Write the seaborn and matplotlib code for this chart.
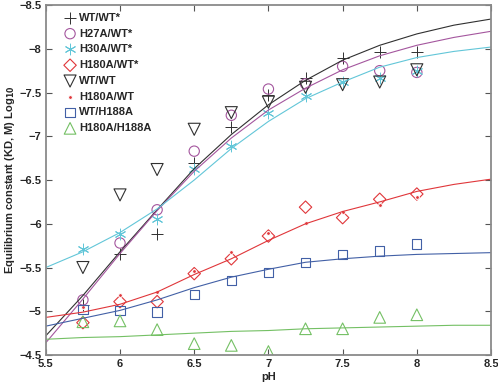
import numpy as np
import pandas as pd
import seaborn as sns
import matplotlib.pyplot as plt

# measured points
ph = [5.75, 6.0, 6.25, 6.5, 6.75, 7.0, 7.25, 7.5, 7.75, 8.0]
wt_wt_star = [-5.07, -5.66, -5.88, -6.70, -7.11, -7.47, -7.67, -7.90, -7.96, -7.96]
h27a_wt_star = [-5.13, -5.78, -6.16, -6.83, -7.24, -7.54, -7.60, -7.80, -7.75, -7.73]
h30a_wt_star = [-5.71, -5.88, -6.05, -6.63, -6.89, -7.27, -7.46, -7.62, -7.67, -7.75]
h180a_wt_star = [-4.87, -5.11, -5.11, -5.43, -5.60, -5.86, -6.19, -6.07, -6.28, -6.34]
wt_wt = [-5.50, -6.33, -6.62, -7.08, -7.27, -7.39, -7.56, -7.59, -7.62, -7.76]
h180a_wt = [-5.05, -5.19, -5.22, -5.46, -5.68, -5.90, -6.01, -6.14, -6.21, -6.31]
wt_h188a = [-5.02, -5.01, -4.99, -5.19, -5.35, -5.44, -5.56, -5.65, -5.69, -5.77]
h180a_h188a = [-4.88, -4.89, -4.79, -4.63, -4.61, -4.54, -4.80, -4.80, -4.93, -4.96]

fit_ph = [5.5, 5.75, 6.0, 6.25, 6.5, 6.75, 7.0, 7.25, 7.5, 7.75, 8.0, 8.25, 8.5]
fit_black = [-4.72, -5.18, -5.68, -6.16, -6.63, -7.02, -7.36, -7.64, -7.87, -8.04, -8.17, -8.27, -8.34]
fit_purple = [-4.64, -5.14, -5.66, -6.15, -6.60, -6.98, -7.30, -7.55, -7.76, -7.92, -8.04, -8.13, -8.20]
fit_cyan = [-5.50, -5.68, -5.90, -6.17, -6.50, -6.86, -7.17, -7.43, -7.62, -7.79, -7.90, -7.97, -8.02]
fit_red = [-4.93, -4.99, -5.08, -5.22, -5.42, -5.60, -5.81, -6.00, -6.14, -6.25, -6.37, -6.45, -6.51]
fit_blue = [-4.83, -4.92, -5.01, -5.13, -5.27, -5.39, -5.48, -5.56, -5.60, -5.63, -5.65, -5.66, -5.67]
fit_green = [-4.68, -4.70, -4.71, -4.73, -4.75, -4.77, -4.78, -4.80, -4.81, -4.82, -4.83, -4.84, -4.84]

BLACK = '#303030'
PURPLE = '#a4569e'
CYAN = '#62c6d8'
RED = '#e0363a'
BLUE = '#4260a6'
GREEN = '#74c064'

sns.set_style('ticks')
plt.rcParams['font.family'] = ['Liberation Sans', 'DejaVu Sans']
plt.rcParams['font.weight'] = 'bold'

fig, ax = plt.subplots(figsize=(4.98, 3.88), dpi=100)
fig.subplots_adjust(left=0.092, right=0.986, bottom=0.085, top=0.987)

for vals, c in [(fit_black, BLACK), (fit_purple, PURPLE), (fit_cyan, CYAN),
                (fit_red, RED), (fit_blue, BLUE), (fit_green, GREEN)]:
    sns.lineplot(x=fit_ph, y=vals, color=c, linewidth=0.8, legend=False, ax=ax)

series = [
    ('WT/WT*', wt_wt_star, '+', BLACK, 70, False),
    ('H27A/WT*', h27a_wt_star, 'o', PURPLE, 55, True),
    ('H30A/WT*', h30a_wt_star, (6, 2, 0), CYAN, 60, False),
    ('H180A/WT*', h180a_wt_star, 'D', RED, 40, True),
    ('WT/WT', wt_wt, 'v', BLACK, 75, True),
    ('H180A/WT', h180a_wt, '.', RED, 30, False),
    ('WT/H188A', wt_h188a, 's', BLUE, 45, True),
    ('H180A/H188A', h180a_h188a, '^', GREEN, 70, True),
]
for name, vals, m, c, s, hollow in series:
    if hollow:
        sns.scatterplot(x=ph, y=vals, marker=m, s=s, facecolors='none',
                        edgecolor=c, linewidth=0.8, label=name, ax=ax)
    else:
        sns.scatterplot(x=ph, y=vals, marker=m, s=s, color=c,
                        linewidth=0.7, label=name, ax=ax)

ax.set_xlim(5.5, 8.5)
ax.set_ylim(-4.5, -8.5)
ax.set_xticks(np.arange(5.5, 8.51, 0.5))
ax.set_yticks(np.arange(-8.5, -4.49, 0.5))
ax.set_xticklabels(['5.5', '6', '6.5', '7', '7.5', '8', '8.5'])
ax.set_yticklabels(['\u22128.5', '\u22128', '\u22127.5', '\u22127', '\u22126.5',
                    '\u22126', '\u22125.5', '\u22125', '\u22124.5'])
ax.tick_params(direction='in', top=True, right=True, length=4, width=0.8,
               color='#555555', labelsize=8, pad=3)
for sp in ax.spines.values():
    sp.set_color('#8a8a8a')
    sp.set_linewidth(1.3)

ax.set_xlabel('pH', fontsize=8, fontweight='bold', labelpad=2)
ax.set_ylabel('Equilibrium constant (KD, M) Log$_{\\mathbf{10}}$', fontsize=8,
              fontweight='bold', labelpad=2)

leg = ax.legend(loc='upper left', frameon=False, fontsize=8, labelspacing=0.52,
                handletextpad=0.2, borderaxespad=0.3, handlelength=1.2,
                bbox_to_anchor=(0.022, 1.0))
for t in leg.get_texts():
    t.set_fontweight('bold')

plt.savefig('out.png', dpi=100)
plt.close()
